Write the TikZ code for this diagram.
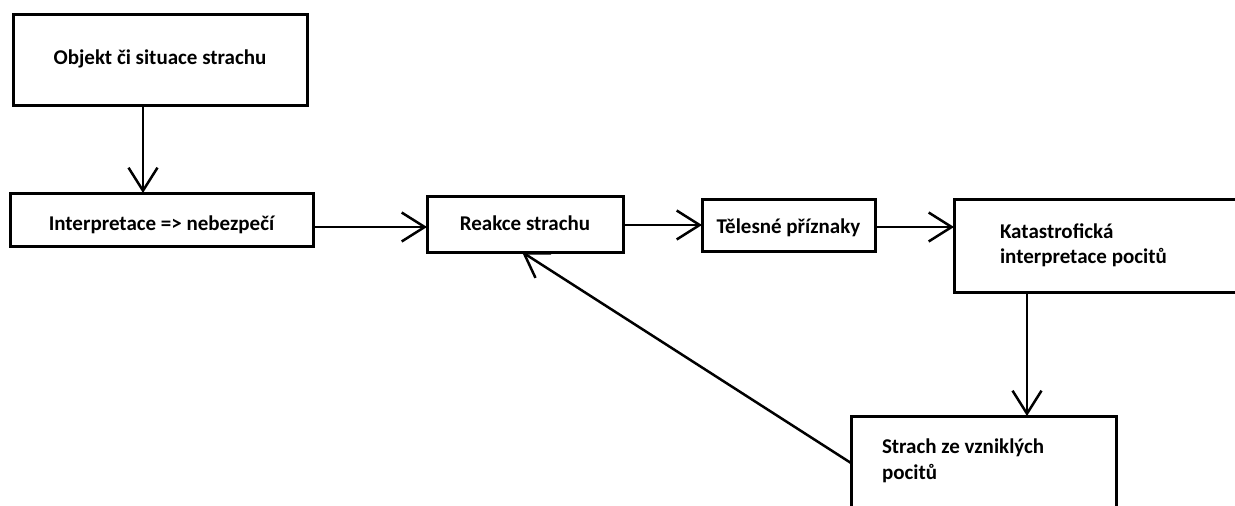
\documentclass[tikz,border=0pt]{standalone}
\usepackage{fontspec}
\setmainfont{Carlito}
\usetikzlibrary{arrows.meta}
\begin{document}
\begin{tikzpicture}[x=1pt,y=-1pt,
  box/.style={draw, line width=3pt, outer sep=0pt, inner sep=0pt,
    font=\fontsize{21}{25.5}\selectfont\bfseries},
  arr/.style={line width=2.5pt, -{Straight Barb[length=23pt,width=29pt]}}]
\useasboundingbox (0,0) rectangle (1235,506);
\clip (0,0) rectangle (1235,506);
\node[box, anchor=north west, minimum width=294pt, minimum height=91pt, text height=9pt, text depth=0pt] (obj) at (13,14) {Objekt či situace strachu};
\node[box, anchor=north west, minimum width=303pt, minimum height=53pt, text height=21pt, text depth=0pt] (int) at (10,193) {Interpretace => nebezpečí};
\node[box, anchor=north west, minimum width=196pt, minimum height=56pt, text height=12pt, text depth=0pt] (rea) at (427,196) {Reakce strachu};
\node[box, anchor=north west, minimum width=173pt, minimum height=52pt, text height=16pt, text depth=0pt] (tel) at (702,199) {Tělesné příznaky};
\node[box, anchor=north west, minimum height=93pt, text width=208pt, inner xsep=46pt, align=flush left] (kat) at (954,199) {Katastrofická\\interpretace pocitů};
\node[box, anchor=north west, text width=203pt, inner xsep=31pt, inner ysep=23pt, align=flush left, text depth=90pt] (str) at (851,416) {Strach ze vzniklých\\pocitů};
\coordinate (c1) at (143,0);
\coordinate (r2) at (0,227);
\coordinate (r3) at (0,225);
\coordinate (r4) at (0,227);
\coordinate (c5) at (1027,0);
\coordinate (r6) at (0,463);
\coordinate (c6) at (522,0);
\draw[arr] (obj.south -| c1) -- (int.north -| c1);
\draw[arr] (int.east |- r2) -- (rea.west |- r2);
\draw[arr] (rea.east |- r3) -- (tel.west |- r3);
\draw[arr] (tel.east |- r4) -- (kat.west |- r4);
\draw[arr] (kat.south -| c5) -- (str.north -| c5);
\draw[arr] (str.west |- r6) -- (rea.south -| c6);
\end{tikzpicture}
\end{document}
